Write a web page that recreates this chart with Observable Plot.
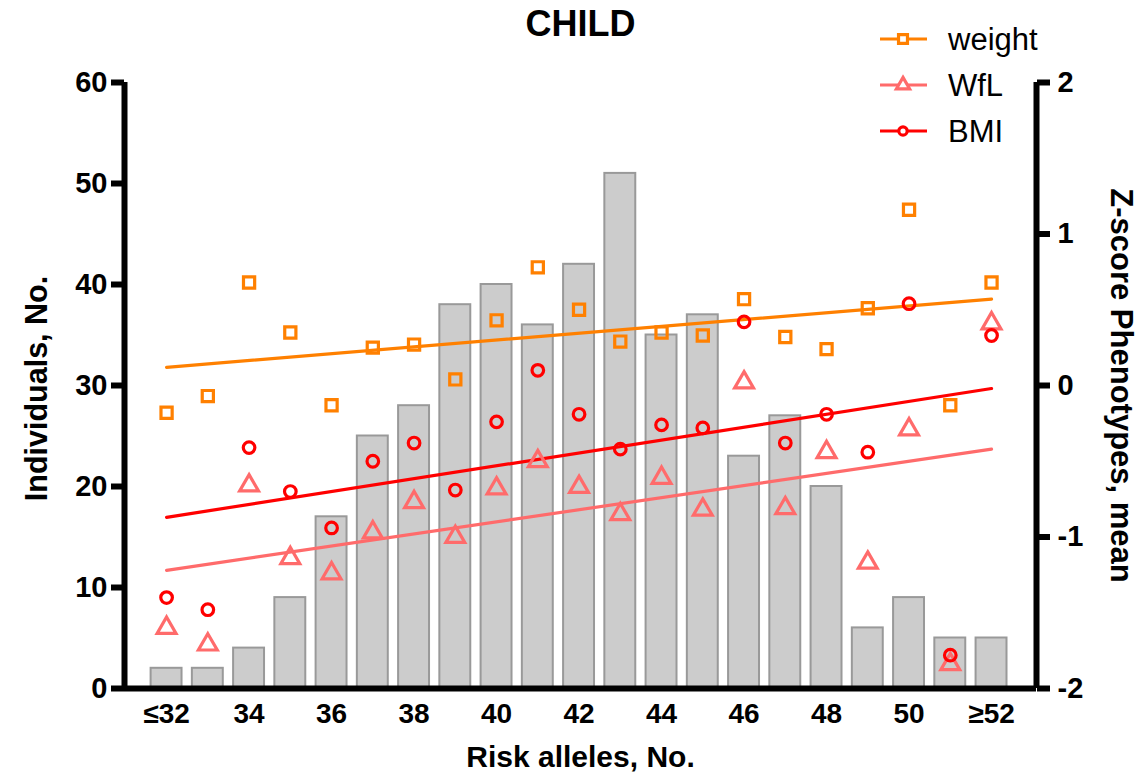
<!DOCTYPE html>
<html><head><meta charset="utf-8">
<script src="https://cdn.jsdelivr.net/npm/d3@7"></script>
<script src="https://cdn.jsdelivr.net/npm/@observablehq/plot@0.6"></script>
<style>
body{margin:0;background:#fff;font-family:Arial,"Liberation Sans",sans-serif;}
#wrap{position:relative;width:1138px;height:779px;}
#legend{position:absolute;left:0;top:0;pointer-events:none;}
#wrap svg text{font-family:Arial,"Liberation Sans",sans-serif;}
#wrap g[aria-label="y-axis tick label"], #wrap g[aria-label="y-axis tick label"] text{font-size:29px !important;font-weight:bold !important;}
#wrap g[aria-label="x-axis tick label"], #wrap g[aria-label="x-axis tick label"] text{font-size:28px !important;font-weight:bold !important;}
</style></head><body><div id="wrap"></div>
<script>
// ---- data ----
const alleles = [32,33,34,35,36,37,38,39,40,41,42,43,44,45,46,47,48,49,50,51,52];
const individuals = [2,2,4,9,17,25,28,38,40,36,42,51,35,37,23,27,20,6,9,5,5];
const weightZ = [-0.18,-0.07,0.68,0.35,-0.13,0.25,0.27,0.04,0.43,0.78,0.50,0.29,0.35,0.33,0.57,0.32,0.24,0.51,1.16,-0.13,0.68];
const wflZ    = [-1.60,-1.71,-0.66,-1.14,-1.24,-0.97,-0.77,-1.00,-0.68,-0.50,-0.67,-0.85,-0.61,-0.82,0.02,-0.81,-0.44,-1.17,-0.29,-1.84,0.41];
const bmiZ    = [-1.40,-1.48,-0.41,-0.70,-0.94,-0.50,-0.38,-0.69,-0.24,0.10,-0.19,-0.42,-0.26,-0.28,0.42,-0.38,-0.19,-0.44,0.54,-1.78,0.33];
const fitX = [32, 52];
const weightFit = [0.12, 0.57];
const wflFit = [-1.22, -0.42];
const bmiFit = [-0.87, -0.02];
const seriesNames = ["weight","WfL","BMI"];
const seriesColors = ["#ff8000","#ff6b6b","#ff0000"];
const seriesSymbols = ["square","triangle","circle"];
const xTickValues = [32,34,36,38,40,42,44,46,48,50,52];
const xTickLabels = ["≤32","34","36","38","40","42","44","46","48","50","≥52"];
const leftTicks = [0,10,20,30,40,50,60];
const rightTicks = [-2,-1,0,1,2];

// ---- build tables ----
const zToCount = z => (z + 2) * 15;   // right axis -2..2 mapped onto 0..60
const bars = alleles.map((a, i) => ({a, n: individuals[i]}));
const zSeries = [weightZ, wflZ, bmiZ];
const fits = [weightFit, wflFit, bmiFit];
const points = [];
zSeries.forEach((arr, s) => arr.forEach((z, i) => points.push({a: alleles[i], y: zToCount(z), s: seriesNames[s]})));
const fitRows = [];
fits.forEach((f, s) => f.forEach((z, i) => fitRows.push({a: fitX[i], y: zToCount(z), s: seriesNames[s]})));

const xDomain = [30.98, 53.09];
const bold = {fontWeight: "bold"};
const colorOf = s => seriesColors[seriesNames.indexOf(s)];
const dotR = [6.3, 7, 5.8];

const plot = Plot.plot({
  width: 1138, height: 779,
  marginLeft: 124, marginRight: 102, marginTop: 82, marginBottom: 91,
  style: {background: "white", overflow: "visible", fontSize: "28px"},
  x: {type: "linear", domain: xDomain},
  y: {domain: [0, 60]},
  marks: [
    Plot.rectY(bars, {x1: d => d.a - 0.375, x2: d => d.a + 0.375, y: "n", fill: "#cccccc", stroke: "#999999", strokeWidth: 2}),
    Plot.line(fitRows, {x: "a", y: "y", z: "s", stroke: d => colorOf(d.s), strokeWidth: 3.2}),
    ...seriesNames.map((name, k) =>
      Plot.dot(points.filter(p => p.s === name), {x: "a", y: "y", symbol: seriesSymbols[k],
        r: dotR[k], stroke: seriesColors[k], strokeWidth: 3.2, fill: "none"})),
    Plot.ruleY([0], {strokeWidth: 6}),
    Plot.ruleX(xDomain, {strokeWidth: 6}),
    Plot.axisY(leftTicks, {anchor: "left", tickSize: 13, tickPadding: 4, strokeWidth: 6, fontSize: 29, ...bold, label: null, tickFormat: d => String(d)}),
    Plot.axisY(rightTicks.map(zToCount), {anchor: "right", tickSize: 13, tickPadding: 8, strokeWidth: 6, fontSize: 29, ...bold, label: null,
      tickFormat: v => String(Math.round(v / 15 - 2))}),
    Plot.axisX(xTickValues, {anchor: "bottom", tickSize: 0, tickPadding: 15, fontSize: 28, ...bold, label: null,
      tickFormat: v => xTickLabels[xTickValues.indexOf(v)]}),
    Plot.text(["CHILD"], {text: d => d, frameAnchor: "top", lineAnchor: "middle", textAnchor: "middle", dy: -58, fontSize: 36, ...bold}),
    Plot.text(["Individuals, No."], {text: d => d, frameAnchor: "left", textAnchor: "middle", lineAnchor: "middle", rotate: -90, dx: -87, dy: 3, fontSize: 30.5, ...bold}),
    Plot.text(["Z-score Phenotypes, mean"], {text: d => d, frameAnchor: "right", textAnchor: "middle", lineAnchor: "middle", rotate: 90, dx: 84, fontSize: 31, ...bold}),
    Plot.text(["Risk alleles, No."], {text: d => d, frameAnchor: "bottom", textAnchor: "middle", lineAnchor: "middle", dy: 69, fontSize: 30, ...bold})
  ]
});
const wrap = document.getElementById("wrap");
wrap.appendChild(plot);

// ---- legend ----
const leg = d3.select(wrap).append("svg").attr("id", "legend").attr("width", 1138).attr("height", 160);
const legY = [39, 85, 131];
seriesNames.forEach((name, k) => {
  const g = leg.append("g").attr("transform", `translate(0,${legY[k]})`);
  g.append("line").attr("x1", 880).attr("x2", 927).attr("stroke", seriesColors[k]).attr("stroke-width", 3.2);
  g.append("path").attr("transform", "translate(903,0)")
    .attr("d", d3.symbol(k === 0 ? d3.symbolSquare : k === 1 ? d3.symbolTriangle : d3.symbolCircle, k === 0 ? 80 : k === 1 ? 75 : 55)())
    .attr("fill", "white").attr("stroke", seriesColors[k]).attr("stroke-width", 3.2);
  g.append("text").attr("x", 948).attr("y", 0).attr("dy", "0.35em").attr("font-size", 31)
    .attr("font-family", "Arial, 'Liberation Sans', sans-serif").text(name);
});
</script></body></html>
